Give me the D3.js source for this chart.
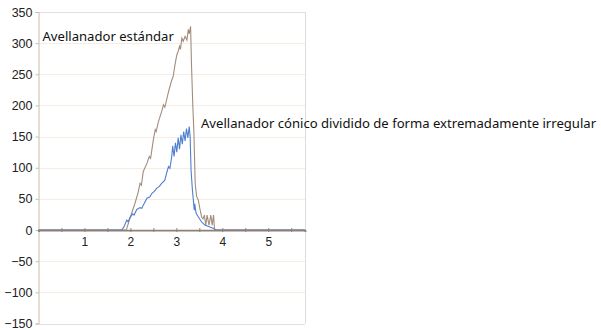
<!DOCTYPE html>
<html>
<head>
<meta charset="utf-8">
<script src="https://cdn.jsdelivr.net/npm/d3@7"></script>
<style>
  body { margin: 0; background: #fff; }
</style>
</head>
<body>
<div id="chart"></div>
<script>
// tick values
let xTicks = [1, 2, 3, 4, 5];
let yTicks = [-150, -100, -50, 0, 50, 100, 150, 200, 250, 300, 350];

// series: [x, y]
let standardX = [0, 1.91, 1.99, 2.10, 2.17, 2.21, 2.24, 2.28, 2.36, 2.41, 2.44, 2.50, 2.54, 2.56, 2.61, 2.68, 2.72, 2.75,
    2.83, 2.90, 2.93, 2.97, 3.01, 3.04, 3.07, 3.09, 3.12, 3.15, 3.19, 3.23, 3.26, 3.28, 3.31, 3.33, 3.36, 3.38, 3.41,
    3.44, 3.48, 3.51, 3.55, 3.58, 3.61, 3.64, 3.67, 3.71, 3.75, 3.78, 3.81, 3.83, 3.85, 5.8];
let standardY = [0, 0, 19, 43, 61, 75, 72, 94, 107, 118, 115, 145, 161, 158, 174, 190, 201, 197,
    222, 241, 246, 265, 281, 287, 295, 290, 308, 303, 311, 305, 322, 315, 327, 265, 196, 161, 75,
    54, 48, 35, 21, 18, 24, 8, 24, 8, 24, 8, 24, 3, 0, 0];

let conicalX = [0, 1.81, 1.86, 1.92, 1.95, 1.99, 2.05, 2.08, 2.14, 2.21, 2.25, 2.28, 2.36, 2.42, 2.47, 2.52, 2.57,
    2.63, 2.68, 2.75, 2.79, 2.83, 2.86, 2.90,
    2.92, 2.95, 2.98, 3.01, 3.04, 3.07, 3.10, 3.13, 3.16, 3.19, 3.22, 3.25, 3.28, 3.30, 3.32, 3.35, 3.37,
    3.39, 3.40, 3.43, 3.48, 3.55, 3.62, 3.73, 3.80, 3.85, 5.8];
let conicalY = [0, 0, 5, 16, 13, 20, 26, 24, 33, 36, 35, 40, 51, 53, 59, 62, 67,
    70, 75, 80, 92, 102, 99, 118,
    135, 118, 140, 125, 148, 130, 153, 138, 158, 143, 163, 148, 166, 150, 96, 64, 48,
    32, 42, 27, 21, 13, 8, 5, 3, 0, 0];

let labelStandard = "Avellanador estándar";
let labelConical = "Avellanador cónico dividido de forma extremadamente irregular";

var width = 601,
    height = 330;

var margin = {left: 38.5, right: 296, top: 12, bottom: 323.5};

var svg = d3.select('#chart').append('svg')
    .attr('width', width)
    .attr('height', height);

let scaleX = d3.scaleLinear().domain([0, 5.8]).range([margin.left, 305]);
let scaleY = d3.scaleLinear().domain([-150, 350]).range([margin.bottom, margin.top]);

// gridlines
svg.selectAll(".grid").data(yTicks).enter()
    .append("line")
    .attr("class", "grid")
    .attr("x1", scaleX(0))
    .attr("x2", scaleX(5.8))
    .attr("y1", d => Math.round(scaleY(d)) + 0.5)
    .attr("y2", d => Math.round(scaleY(d)) + 0.5)
    .attr("stroke", d => (d == 350 || d == -150) ? "#e4e0dc" : "#f6ece2")
    .attr("stroke-width", 1);

// right border
svg.append("line")
    .attr("x1", 305.5).attr("x2", 305.5)
    .attr("y1", scaleY(350)).attr("y2", scaleY(-150))
    .attr("stroke", "#dcdcdc");

// y axis
let yAxis = d3.axisLeft(scaleY).tickValues(yTicks).tickSize(3).tickPadding(3);
let gy = svg.append("g")
    .attr("transform", "translate(" + margin.left + ",0)")
    .call(yAxis);
gy.select(".domain").attr("stroke", "#c9bcb0");
gy.selectAll(".tick line").attr("stroke", "#c9bcb0");
gy.selectAll(".tick text")
    .attr("font-family", "'Liberation Sans', Arial, sans-serif")
    .attr("font-size", 12.5)
    .attr("fill", "#222");

// series lines
let line = d3.line()
    .x(d => scaleX(d[0]))
    .y(d => scaleY(d[1]));

let standard = standardX.map((x, i) => [x, standardY[i]]);
let conical = conicalX.map((x, i) => [x, conicalY[i]]);

svg.append("path")
    .datum(standard)
    .attr("d", line)
    .attr("fill", "none")
    .attr("stroke", "#a38c7c")
    .attr("stroke-width", 1.1);

svg.append("path")
    .datum(conical)
    .attr("d", line)
    .attr("fill", "none")
    .attr("stroke", "#4f7fcf")
    .attr("stroke-width", 1.1);

// x axis at zero
let xAxis = d3.axisBottom(scaleX).tickValues(d3.range(0.5, 5.8, 0.5)).tickSize(2)
    .tickFormat(d => Number.isInteger(d) ? d : "");
let gx = svg.append("g")
    .attr("transform", "translate(0," + scaleY(0) + ")")
    .call(xAxis);
gx.select(".domain").attr("stroke", "#8f8076").attr("stroke-width", 1.8);
gx.selectAll(".tick line").attr("stroke", "#8f8076").attr("y1", -2);
gx.selectAll(".tick text")
    .attr("font-family", "'Liberation Sans', Arial, sans-serif")
    .attr("font-size", 12)
    .attr("fill", "#222")
    .attr("dy", "0.95em");

// annotations
svg.append("text")
    .attr("x", 42.5)
    .attr("y", 40.5)
    .attr("font-family", "'Noto Sans', sans-serif")
    .attr("font-size", 13.1)
    .attr("fill", "#111")
    .text(labelStandard);

svg.append("text")
    .attr("x", 201)
    .attr("y", 128)
    .attr("font-family", "'Noto Sans', sans-serif")
    .attr("font-size", 13.1)
    .attr("fill", "#111")
    .text(labelConical);
</script>
</body>
</html>
